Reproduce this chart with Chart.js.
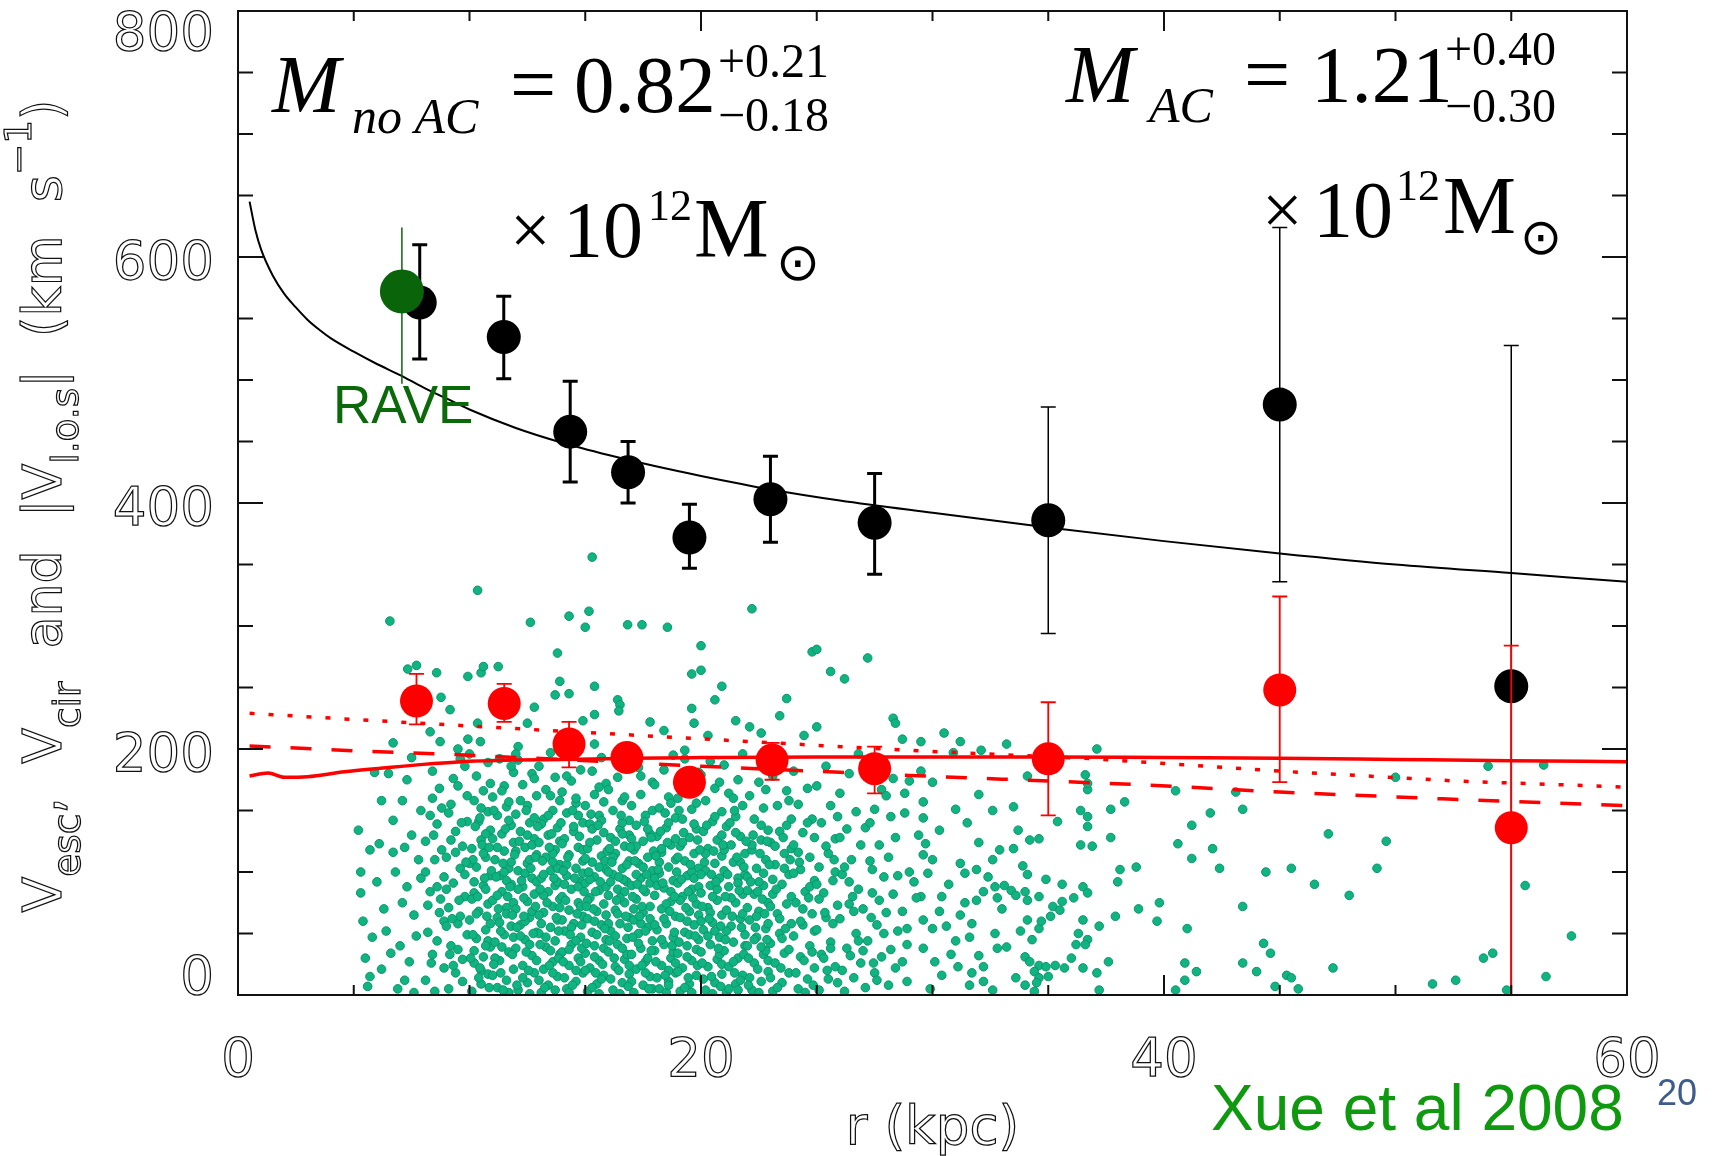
<!DOCTYPE html>
<html>
<head>
<meta charset="utf-8">
<script src="https://cdn.jsdelivr.net/npm/chart.js@4.4.0/dist/chart.umd.min.js"></script>
<style>
html,body{margin:0;padding:0;background:#fff;overflow:hidden}
canvas{display:block}
</style>
</head>
<body>
<canvas id="c" width="1714" height="1156"></canvas>
<script>
// ---------- data ----------
// escape-velocity estimates (black points)
const escR  = [7.85, 11.48, 14.35, 16.85, 19.5, 23.0, 27.5, 35.0, 45.0, 55.0];
const escV  = [563, 535, 458, 425, 372, 403, 384, 386, 480, 251];
const escLo = [517, 501, 417, 400, 347, 368, 342, 294, 336, -26];
const escHi = [610, 568, 499, 450, 399, 438, 424, 478, 624, 528];
// circular-velocity estimates (red points)
const cirR  = [7.71, 11.5, 14.3, 16.8, 19.5, 23.07, 27.5, 35.0, 45.0, 55.0];
const cirV  = [239, 237, 204, 193, 173, 191, 184, 192, 248, 136];
const cirLo = [220, 222, 185, 186, 167, 175, 164, 146, 173, -12];
const cirHi = [261, 253, 222, 200, 179, 205, 202, 238, 324, 284];
// RAVE point (green)
const raveR  = [7.08];
const raveV  = [572];
const raveLo = [497];
const raveHi = [624];
// model curves
const escModelR = [0.5, 0.75, 1, 1.5, 2, 2.5, 3, 3.5, 4, 5, 6, 7, 8, 9, 10, 12, 14, 16, 18, 20, 23, 26, 30, 35, 40, 45, 50, 55, 60];
const escModelV = [645, 622, 606, 585, 570, 559, 549, 541, 534, 523, 513, 504, 494, 485, 476, 461, 449, 439, 430, 422, 411, 402, 392, 380, 369, 359, 350, 343, 336];
const cirModelR = [0.5, 1.3, 2, 3, 4.6, 6.25, 8, 9.5, 12, 14, 17, 20, 25, 30, 35, 40, 45, 50, 55, 60];
const cirModelV = [178, 180.5, 177, 177.5, 181.5, 184.5, 187.5, 189.5, 191, 191.5, 192.5, 193, 193.5, 193.5, 193.5, 193, 192.5, 191.5, 190.5, 189.7];
const dottedR = [0.5, 5, 13.5, 19.3, 25, 30, 37, 45, 52.6, 60];
const dottedV = [229, 224, 215, 209, 203, 198, 192, 182, 174, 169];
const dashedR = [0.5, 5, 10, 20, 26, 29, 33, 39, 45, 52, 60];
const dashedV = [202.5, 198.5, 195, 186, 181, 178.5, 175.5, 171, 165, 159.5, 154];
// halo stars |V_los| vs r (green dots), [r, v]
const haloStars = [
[15.3,356],[10.35,329],[6.56,304],[12.63,303],[14.3,308],[15.16,312],[15.0,299],[16.83,301],[17.45,301],[18.55,299],[22.2,314],[20.0,284],[24.8,279],[25.0,281],[27.2,274],[13.8,278],[19.6,261],[20.0,264],[25.6,263],[26.2,257],[20.9,251],[20.6,240],[23.7,241],[7.33,265],[7.71,268],[8.58,262],[9.93,259],[10.5,262],[10.6,267],[11.24,267],[13.9,255],[13.7,244],[14.3,245],[15.4,251],[16.4,240],[16.5,236],[8.77,242],[9.16,232],[12.8,234],[15.4,228],[14.9,223],[16.45,231],[12.5,221],[10.35,221],[19.6,233],[17.8,222],[19.7,221],[21.5,223],[22.1,218],[23.4,227],[25.0,218],[28.3,225],[28.4,221],[8.3,214],[8.73,206],[9.93,208],[10.47,206],[12.1,202],[6.7,205],[9.5,200],[18.4,215],[20.3,211],[22.6,213],[24.45,211],[15.4,204],[19.3,199],
[5.2,134],[5.3,83],[5.4,60],[5.8,47],[5.7,15],[5.6,7],[5.9,181],[5.7,118],[5.3,100],[5.5,30],
[6.0,92],[6.1,123],[6.2,158],[6.5,180],[6.6,34],[6.7,142],[6.7,116],[6.3,70],[6.9,5],[6.4,52],[6.8,100],[6.2,21],
[7.1,158],[7.0,40],[7.3,88],[7.5,130],[7.2,12],[7.6,65],[7.8,110],[7.4,27],[7.9,150],[7.1,75],[7.7,48],[7.3,175],[7.6,2],[7.9,95],[7.5,193],[7.2,120],
[8.1,12],[8.4,33],[8.2,51],[8.7,67],[8.3,84],[8.9,96],[8.5,110],[8.1,125],[8.6,139],[8.8,152],[8.7,168],[8.4,182],[8.9,22],[8.6,44],[8.2,73],[8.8,118],[8.3,146],[8.5,3],[8.9,60],[8.1,100],[8.6,88],[8.4,160],
[9.1,5],[9.4,18],[9.7,29],[9.2,40],[9.9,49],[9.5,58],[9.1,71],[9.8,80],[9.3,91],[9.6,103],[9.0,112],[9.7,121],[9.4,133],[9.9,141],[9.2,155],[9.5,170],[9.8,186],[9.3,24],[9.6,64],[9.0,86],[9.8,98],[9.4,116],[9.1,148],[9.7,11],[9.5,37],[9.2,126],[9.9,162],[9.6,192],[9.0,56],[9.3,176],
[10.1,3],[10.5,9],[10.8,17],[10.2,26],[10.6,31],[10.9,39],[10.3,46],[10.7,53],[10.0,61],[10.4,68],[10.8,74],[10.2,83],[10.6,89],[10.9,97],[10.3,104],[10.7,112],[10.1,119],[10.5,126],[10.9,134],[10.4,141],[10.8,149],[10.2,158],[10.6,166],[10.3,178],[10.8,189],[10.0,196],[10.5,20],[10.9,58],[10.2,92],[10.7,131],[10.4,14],[10.1,78],[10.6,115],[10.8,44],[10.3,66],[10.0,107],[10.5,152],[10.9,172],[10.2,36],[10.7,86],
[11.2,6],[11.6,12],[11.9,21],[11.3,28],[11.7,35],[11.1,43],[11.5,49],[11.8,56],[11.2,63],[11.6,71],[11.0,77],[11.4,84],[11.8,90],[11.3,97],[11.7,103],[11.1,110],[11.5,117],[11.9,124],[11.4,131],[11.8,138],[11.2,146],[11.6,153],[11.0,161],[11.5,170],[11.9,181],[11.3,192],[11.7,2],[11.0,16],[11.4,39],[11.9,47],[11.2,81],[11.6,93],[11.0,127],[11.7,142],[11.3,59],[11.8,108],[11.4,166],[11.1,30],[11.6,66],[11.9,75],[11.5,100],[11.2,120],[11.7,157],[11.8,186],
[12.1,4],[12.5,10],[12.8,18],[12.3,24],[12.7,32],[12.0,38],[12.4,45],[12.9,51],[12.2,57],[12.6,63],[12.0,70],[12.5,76],[12.8,82],[12.3,88],[12.7,95],[12.1,101],[12.5,107],[12.9,114],[12.4,120],[12.8,127],[12.2,133],[12.6,140],[12.0,147],[12.5,154],[12.9,162],[12.3,171],[12.7,180],[12.1,191],[12.6,1],[12.9,28],[12.2,48],[12.7,68],[12.4,99],[12.0,117],[12.8,144],[12.3,14],[12.6,41],[12.1,86],[12.9,92],[12.4,60],[12.7,122],[12.2,158],[12.5,130],[12.8,176],[12.0,196],[12.6,110],
[13.1,2],[13.4,8],[13.8,15],[13.2,21],[13.6,27],[13.9,33],[13.3,39],[13.7,44],[13.0,50],[13.5,55],[13.8,61],[13.2,67],[13.6,72],[13.9,78],[13.4,84],[13.7,89],[13.1,95],[13.5,101],[13.9,106],[13.3,112],[13.7,118],[13.0,124],[13.4,130],[13.8,136],[13.2,143],[13.6,150],[13.9,158],[13.3,167],[13.7,177],[13.0,186],[13.5,197],[13.0,12],[13.5,36],[13.1,58],[13.8,92],[13.2,81],[13.6,115],[13.9,125],[13.4,146],[13.0,65],[13.7,4],[13.3,47],[13.8,103],[13.1,139],[13.5,162],[13.6,18],[13.9,71],[13.2,98],
[14.2,5],[14.6,11],[14.9,18],[14.3,24],[14.7,30],[14.0,35],[14.4,41],[14.8,47],[14.1,52],[14.5,58],[14.9,64],[14.3,69],[14.7,75],[14.0,80],[14.4,86],[14.8,92],[14.2,97],[14.6,103],[14.9,109],[14.3,114],[14.7,120],[14.1,127],[14.5,133],[14.9,140],[14.2,148],[14.6,156],[14.0,165],[14.4,174],[14.8,183],[14.5,194],[14.1,14],[14.8,27],[14.4,55],[14.0,61],[14.7,88],[14.2,106],[14.9,118],[14.5,137],[14.1,90],[14.6,44],[14.3,2],[14.8,72],[14.0,123],[14.6,160],[14.9,99],[14.3,37],[14.7,146],[14.2,178],
[15.1,3],[15.5,9],[15.8,16],[15.2,22],[15.6,28],[15.0,34],[15.4,40],[15.9,45],[15.3,51],[15.7,57],[15.1,62],[15.5,68],[15.8,74],[15.2,79],[15.6,85],[15.0,91],[15.4,96],[15.9,102],[15.3,108],[15.7,113],[15.1,119],[15.5,126],[15.8,132],[15.2,139],[15.6,146],[15.0,154],[15.4,163],[15.9,172],[15.3,182],[15.7,193],[15.0,20],[15.8,38],[15.4,60],[15.1,77],[15.9,88],[15.6,104],[15.2,124],[15.7,142],[15.3,6],[15.9,65],[15.5,49],[15.0,111],[15.8,157],[15.4,31],[15.2,94],[15.7,13],[15.6,169],[15.3,135],
[16.2,4],[16.6,10],[16.9,17],[16.3,23],[16.7,29],[16.0,35],[16.4,41],[16.8,46],[16.1,52],[16.5,58],[16.9,63],[16.3,69],[16.7,75],[16.0,81],[16.4,86],[16.8,92],[16.2,98],[16.6,103],[16.9,109],[16.3,115],[16.7,121],[16.1,128],[16.5,135],[16.9,142],[16.2,150],[16.6,158],[16.0,167],[16.4,177],[16.8,188],[16.1,13],[16.8,33],[16.4,66],[16.0,100],[16.7,84],[16.2,112],[16.9,130],[16.5,1],[16.3,48],[16.6,140],[16.0,58],[16.9,24],[16.5,79],[16.1,92],[16.7,161],[16.3,125],[16.6,38],[16.4,197],[16.8,106],
[17.1,2],[17.5,8],[17.8,15],[17.2,21],[17.6,27],[17.0,33],[17.4,38],[17.9,44],[17.3,50],[17.7,55],[17.1,61],[17.5,67],[17.8,72],[17.2,78],[17.6,84],[17.0,89],[17.4,95],[17.9,101],[17.3,107],[17.7,112],[17.1,118],[17.5,125],[17.8,131],[17.2,138],[17.6,146],[17.0,154],[17.4,163],[17.9,173],[17.3,185],[17.0,11],[17.7,30],[17.4,58],[17.1,70],[17.8,91],[17.5,104],[17.2,121],[17.9,150],[17.6,18],[17.3,42],[17.0,127],[17.8,62],[17.5,86],[17.2,98],[17.7,135],[17.4,178],[17.9,5],
[18.2,5],[18.6,11],[18.9,18],[18.3,24],[18.7,30],[18.0,36],[18.4,41],[18.8,47],[18.1,53],[18.5,58],[18.9,64],[18.3,70],[18.7,76],[18.0,81],[18.4,87],[18.8,93],[18.2,99],[18.6,104],[18.9,110],[18.3,116],[18.7,122],[18.1,129],[18.5,136],[18.9,144],[18.2,152],[18.6,161],[18.0,171],[18.4,183],[18.8,195],[18.1,14],[18.8,35],[18.4,62],[18.0,95],[18.7,84],[18.2,108],[18.9,127],[18.5,2],[18.3,45],[18.6,140],[18.0,57],[18.9,26],[18.5,74],[18.1,89],[18.7,156],[18.3,119],[18.6,20],
[19.1,3],[19.5,9],[19.8,16],[19.2,22],[19.6,28],[19.0,34],[19.4,40],[19.9,45],[19.3,51],[19.7,57],[19.1,63],[19.5,68],[19.8,74],[19.2,80],[19.6,86],[19.0,91],[19.4,97],[19.9,103],[19.3,109],[19.7,115],[19.1,121],[19.5,128],[19.8,135],[19.2,143],[19.6,151],[19.0,160],[19.4,170],[19.9,181],[19.3,192],[19.0,19],[19.8,37],[19.4,60],[19.1,77],[19.9,88],[19.6,100],[19.2,124],[19.7,139],[19.3,6],[19.9,65],[19.5,49],[19.0,112],[19.8,156],[19.4,31],[19.7,95],
[20.2,4],[20.6,10],[20.9,17],[20.3,23],[20.7,29],[20.0,35],[20.4,41],[20.8,47],[20.1,53],[20.5,59],[20.9,65],[20.3,71],[20.7,77],[20.0,83],[20.4,89],[20.8,95],[20.2,101],[20.6,107],[20.9,113],[20.3,119],[20.7,126],[20.1,133],[20.5,141],[20.9,149],[20.2,158],[20.6,168],[20.0,179],[20.4,190],[20.1,13],[20.8,33],[20.4,67],[20.0,98],[20.7,86],[20.2,115],[20.9,130],[20.5,1],[20.3,48],[20.6,145],[20.0,60],[20.9,25],[20.5,80],[20.8,173],
[21.1,2],[21.5,9],[21.8,16],[21.2,23],[21.6,30],[21.0,36],[21.4,43],[21.9,49],[21.3,56],[21.7,62],[21.1,69],[21.5,75],[21.8,82],[21.2,88],[21.6,95],[21.0,101],[21.4,108],[21.9,115],[21.3,122],[21.7,129],[21.1,137],[21.5,145],[21.8,154],[21.2,164],[21.6,175],[21.0,187],[21.7,12],[21.4,27],[21.9,40],[21.1,52],[21.8,66],[21.3,79],[21.6,91],[21.0,118],[21.5,132],[21.9,98],[21.2,5],[21.7,108],[21.4,160],[21.8,196],
[22.2,4],[22.6,11],[22.9,19],[22.3,26],[22.7,33],[22.0,40],[22.4,47],[22.8,54],[22.1,61],[22.5,68],[22.9,75],[22.3,82],[22.7,89],[22.0,96],[22.4,103],[22.8,110],[22.2,118],[22.6,126],[22.9,134],[22.3,143],[22.7,152],[22.1,162],[22.5,173],[22.9,185],[22.1,14],[22.8,36],[22.4,64],[22.0,85],[22.7,99],[22.2,122],[22.9,58],[22.5,2],[22.3,45],[22.6,138],[22.0,71],[22.9,28],[22.5,92],[22.8,167],
[23.1,3],[23.5,10],[23.8,18],[23.2,26],[23.6,34],[23.0,42],[23.4,50],[23.9,58],[23.3,66],[23.7,74],[23.1,82],[23.5,90],[23.8,98],[23.2,106],[23.6,115],[23.0,124],[23.4,133],[23.9,143],[23.3,154],[23.7,166],[23.1,178],[23.0,14],[23.8,37],[23.4,62],[23.1,94],[23.9,80],[23.6,103],[23.2,121],[23.7,138],[23.3,6],[23.9,119],[23.5,46],[23.0,72],[23.8,158],
[24.2,5],[24.6,13],[24.9,22],[24.3,31],[24.7,40],[24.0,48],[24.4,57],[24.8,66],[24.1,75],[24.5,84],[24.9,93],[24.3,102],[24.7,112],[24.0,122],[24.4,132],[24.8,143],[24.2,155],[24.6,168],[24.0,182],[24.1,18],[24.8,35],[24.4,70],[24.0,99],[24.7,88],[24.2,116],[24.9,128],[24.5,2],[24.3,60],[24.6,140],[24.9,52],
[25.1,4],[25.5,13],[25.8,23],[25.2,33],[25.6,43],[25.0,53],[25.4,63],[25.9,73],[25.3,83],[25.7,93],[25.1,104],[25.5,115],[25.8,127],[25.2,140],[25.6,154],[25.0,170],[25.4,186],[25.9,10],[25.3,30],[25.7,58],[25.1,78],[25.8,100],[25.4,121],[25.6,38],[25.0,90],[25.9,145],
[26.2,3],[26.6,14],[26.9,26],[26.3,38],[26.7,50],[26.0,62],[26.4,74],[26.8,86],[26.1,98],[26.5,110],[26.9,122],[26.3,135],[26.7,149],[26.0,164],[26.4,180],[26.8,196],[26.1,20],[26.8,44],[26.4,92],[26.0,128],[26.6,68],[26.2,104],
[27.1,6],[27.5,18],[27.8,31],[27.2,44],[27.6,57],[27.0,70],[27.4,83],[27.9,96],[27.3,109],[27.7,122],[27.1,136],[27.5,151],[27.8,167],[27.2,185],[27.6,12],[27.9,50],[27.4,102],[27.0,36],[27.7,77],[27.3,140],
[28.1,8],[28.4,22],[28.2,37],[28.5,52],[28.0,67],[28.3,82],[28.5,97],[28.1,112],[28.4,128],[28.2,145],[28.0,162],[28.3,176],
[10.45,22],[10.15,49],[10.75,64],[10.35,80],[10.95,101],[10.55,122],[10.25,137],[10.85,6],[10.65,95],[10.05,30],[10.85,120],[10.45,144],[10.15,110],[10.7,40],
[11.45,4],[11.05,25],[11.85,33],[11.35,52],[11.65,80],[11.15,96],[11.95,114],[11.55,135],[11.25,70],[11.75,88],[11.05,150],[11.45,107],[11.85,65],[11.35,18],
[12.45,35],[12.05,55],[12.85,72],[12.35,79],[12.65,103],[12.15,125],[12.95,137],[12.55,20],[12.25,93],[12.75,50],[12.05,8],[12.45,150],[12.85,112],[12.35,64],
[13.45,24],[13.05,41],[13.85,52],[13.35,75],[13.65,95],[13.15,109],[13.95,140],[13.55,131],[13.25,6],[13.75,63],[13.05,86],[13.45,120],[13.85,30],[13.6,108],
[14.45,8],[14.05,27],[14.85,38],[14.35,49],[14.65,66],[14.15,77],[14.95,84],[14.55,95],[14.25,112],[14.75,129],[14.05,101],[14.45,150],[14.85,57],[14.6,20],
[15.45,18],[15.05,42],[15.85,54],[15.35,70],[15.65,92],[15.15,100],[15.95,117],[15.55,138],[15.25,147],[15.75,25],[15.05,72],[15.45,84],[15.85,109],[15.6,1],
[16.45,20],[16.05,44],[16.85,55],[16.35,77],[16.65,94],[16.15,108],[16.95,120],[16.55,146],[16.25,30],[16.75,64],[16.05,119],[16.45,96],[16.85,7],[16.6,131],
[17.45,24],[17.05,47],[17.85,36],[17.35,64],[17.65,98],[17.15,109],[17.95,117],[17.55,141],[17.25,90],[17.75,5],[17.05,80],[17.45,72],[17.85,128],[17.6,52],
[18.45,16],[18.05,27],[18.85,51],[18.35,91],[18.65,68],[18.15,102],[18.95,100],[18.55,124],[18.25,133],[18.75,40],[18.05,113],[18.45,148],[18.85,80],[18.6,8],
[19.45,14],[19.05,43],[19.85,24],[19.35,71],[19.65,79],[19.15,94],[19.95,118],[19.55,106],[19.25,132],[19.75,48],[19.05,150],[19.45,84],[19.85,126],[19.6,2],
[20.45,15],[20.05,26],[20.85,56],[20.35,62],[20.65,92],[20.15,108],[20.95,122],[20.55,117],[20.25,138],[20.75,38],[20.05,72],[20.45,98],[20.85,7],[20.6,52],
[21.45,18],[21.05,45],[21.85,33],[21.35,64],[21.65,85],[21.15,98],[21.95,125],[21.55,112],[21.25,140],[21.75,55],[21.05,80],[21.45,150],[21.85,104],[21.6,4],
[22.45,21],[22.05,30],[22.85,45],[22.35,55],[22.65,78],[22.15,92],[22.95,106],[22.55,115],[22.25,130],[22.75,66],[22.05,8],[22.45,84],[22.85,125],[22.6,39],
[8.35,26],[8.75,78],[8.45,130],[9.15,33],[9.55,77],[9.85,108],[9.25,62],[9.65,140],
[23.45,22],[23.65,54],[23.25,86],[23.85,110],[24.45,28],[24.65,79],[24.25,108],[25.45,20],[25.35,67],[25.75,110],[26.45,32],[26.55,80],[27.45,26],[27.35,63],[24.85,8],[23.55,128],
[30.5,213],[28.7,208],[29.5,206],[31.2,206],[33.2,204],[32.1,199],[30.9,197],[37.1,200],[54.0,186],[56.4,187],[29.5,182],[34.1,178],[36.6,179],[29.0,174],[30.0,173],[50.0,177],[40.5,166],[43.1,165],[28.8,164],[29.6,157],[32.0,163],[38.3,157],[31.0,151],[32.6,150],[33.5,153],[36.4,150],[36.7,145],[37.7,151],[35.4,141],[43.4,151],[42.0,148],[28.8,148],[29.6,144],[41.2,138],[36.7,137],[30.3,134],[33.7,134],[29.4,130],[47.1,131],[49.6,125],[32.0,124],[34.2,126],[34.6,127],[36.4,122],[36.9,121],[37.7,128],[40.6,123],[42.1,119],[29.7,123],[33.5,119],[32.6,110],[29.6,114],[41.2,111],[31.2,107],[42.4,103],[44.4,100],[45.5,103],[49.2,103],[38.1,102],[38.8,104],[29.0,100],[29.8,99],[31.4,99],[31.9,102],[34.1,98],[34.9,94],[35.6,90],[38.0,92],[46.5,90],[48.0,81],[36.7,167],[36.7,172],
[32.7,88],[33.1,89],[33.4,85],[33.6,81],[34.0,84],[34.1,77],[34.6,80],[32.8,79],[32.2,84],[31.9,77],[31.4,75],[31.2,65],[30.4,80],[30.3,68],[29.5,80],[29.3,79],[28.7,68],[29.6,61],[36.5,88],[36.7,83],[36.1,79],[35.6,76],[35.2,72],[35.5,69],[37.9,64],[38.9,70],[39.8,75],[39.7,60],[43.4,72],[41.0,54],[34.1,61],[34.6,54],[34.7,60],[34.3,45],[35.1,64],[36.5,61],[36.7,45],[36.3,50],[37.2,56],[36.2,41],[36.6,41],[28.9,54],[30.0,54],[30.6,56],[31.7,58],[32.7,50],[31.6,47],[32.8,38],[33.2,39],[29.6,38],[28.9,41],
[44.3,42],[44.6,34],[43.4,26],[44.0,19],[47.3,22],[40.9,26],[41.4,19],[53.8,30],[54.2,34],[57.6,48],[55.6,89],[28.7,27],[30.1,27],[31.1,23],[32.2,23],[31.7,18],[32.2,11],[31.6,8],[34.0,31],[34.2,27],[34.6,24],[34.9,23],[35.3,24],[35.7,22],[34.4,19],[34.6,14],[35.0,15],[34.0,8],[34.5,10],[36.0,30],[36.5,22],[37.1,18],[37.6,27],[28.9,11],[32.6,4],[34.4,3],[37.2,4],[40.5,4],[40.9,12],[45.3,16],[45.5,14],[45.8,5],[44.8,7],[51.6,9],[52.6,12],[56.5,15],[54.8,4],
[30.0,110],[31.5,140],[32.9,118],[33.9,105],[30.7,90],[32.4,96],[33.0,70],[29.2,92],[30.8,33],[33.6,14],[29.9,5],[31.0,44],[32.0,32],[33.8,52],[30.4,16]
];
const xTickLabels = [0, 20, 40, 60];
const yTickLabels = [0, 200, 400, 600, 800];

// ---------- drawing helpers (styles) ----------
const AXIS_FONT = '"DejaVu Sans", sans-serif';

const errorBarPlugin = {
  id: 'errorBarPlugin',
  beforeDatasetDraw(chart, args) {
    const ds = chart.data.datasets[args.index];
    if (!ds.errLo) return;
    const xs = chart.scales.x, ys = chart.scales.y, ctx = chart.ctx, a = chart.chartArea;
    ctx.save();
    ctx.beginPath();
    ctx.rect(a.left, a.top, a.right - a.left, a.bottom - a.top);
    ctx.clip();
    ctx.strokeStyle = ds.errColor;
    ds.data.forEach((p, i) => {
      const x = xs.getPixelForValue(p.x);
      const yl = ys.getPixelForValue(ds.errLo[i]);
      const yh = ys.getPixelForValue(ds.errHi[i]);
      ctx.lineWidth = ds.errWidths ? ds.errWidths[i] : ds.errWidth;
      ctx.beginPath();
      ctx.moveTo(x, yl); ctx.lineTo(x, yh);
      if (ds.errCap) {
        ctx.moveTo(x - ds.errCap, yl); ctx.lineTo(x + ds.errCap, yl);
        ctx.moveTo(x - ds.errCap, yh); ctx.lineTo(x + ds.errCap, yh);
      }
      ctx.stroke();
    });
    ctx.restore();
  }
};

function runsWidth(ctx, runs) {
  let w = 0;
  for (const r of runs) { ctx.font = r.font; w += ctx.measureText(r.t).width; }
  return w;
}
function drawRuns(ctx, runs, x, y, stroke) {
  for (const r of runs) {
    ctx.font = r.font;
    if (stroke) ctx.strokeText(r.t, x, y + (r.dy || 0));
    else ctx.fillText(r.t, x, y + (r.dy || 0));
    x += ctx.measureText(r.t).width;
  }
}

const framePlugin = {
  id: 'framePlugin',
  afterDraw(chart) {
    const ctx = chart.ctx, a = chart.chartArea, xs = chart.scales.x, ys = chart.scales.y;
    ctx.save();
    // frame
    ctx.strokeStyle = '#111';
    ctx.lineWidth = 2;
    ctx.strokeRect(a.left, a.top, a.right - a.left, a.bottom - a.top);
    // ticks
    ctx.beginPath();
    for (let v = 0; v <= 800; v += 50) {
      const y = ys.getPixelForValue(v);
      const len = (v % 200 === 0) ? 25 : 15;
      ctx.moveTo(a.left, y); ctx.lineTo(a.left + len, y);
      ctx.moveTo(a.right, y); ctx.lineTo(a.right - len, y);
    }
    for (let r = 0; r <= 60; r += 5) {
      const x = xs.getPixelForValue(r);
      const len = (r % 20 === 0) ? 20 : 10;
      ctx.moveTo(x, a.bottom); ctx.lineTo(x, a.bottom - len);
      ctx.moveTo(x, a.top); ctx.lineTo(x, a.top + len);
    }
    ctx.stroke();

    // tick labels (thin outlined look)
    ctx.strokeStyle = '#111';
    ctx.lineWidth = 1.25;
    ctx.font = '53px ' + AXIS_FONT;
    ctx.textBaseline = 'alphabetic';
    ctx.textAlign = 'right';
    yTickLabels.forEach(v => {
      let y = ys.getPixelForValue(v) + 22;
      if (v === 800) y += 17;
      if (v === 0) y -= 23;
      ctx.strokeText(String(v), 214, y);
    });
    ctx.textAlign = 'center';
    xTickLabels.forEach(r => {
      ctx.strokeText(String(r), xs.getPixelForValue(r), 1076);
    });
    // x title
    ctx.strokeText('r (kpc)', (a.left + a.right) / 2, 1144);

    // y title, rotated
    ctx.textAlign = 'left';
    const main = '53px ' + AXIS_FONT, sub = '38px ' + AXIS_FONT;
    const runs = [
      {t: 'V', font: main}, {t: 'esc', font: sub, dy: 19},
      {t: ',  V', font: main}, {t: 'cir', font: sub, dy: 19},
      {t: '  and  |V', font: main}, {t: 'l.o.s', font: sub, dy: 17},
      {t: '|  (km  s', font: main}, {t: '\u22121', font: sub, dy: -30},
      {t: ')', font: main}
    ];
    const w = runsWidth(ctx, runs);
    ctx.save();
    ctx.translate(61, 506);
    ctx.rotate(-Math.PI / 2);
    ctx.scale(813 / w, 1);
    drawRuns(ctx, runs, -w / 2, 0, true);
    ctx.restore();

    // mass annotations
    ctx.fillStyle = '#000';
    const it = (s) => 'italic ' + s + 'px "Liberation Serif", "Times New Roman", serif';
    const rm = (s) => s + 'px "Liberation Serif", "Times New Roman", serif';
    const put = (t, f, x, y) => { ctx.font = f; ctx.fillText(t, x, y); };
    const sun = (cx, cy, wTarget) => {
      ctx.font = '100px "DejaVu Sans", sans-serif';
      const m = ctx.measureText('\u2299');
      const s = 100 * wTarget / m.width;
      ctx.font = s + 'px "DejaVu Sans", sans-serif';
      const m2 = ctx.measureText('\u2299');
      const yb = cy + (m2.actualBoundingBoxAscent - m2.actualBoundingBoxDescent) / 2;
      ctx.fillText('\u2299', cx - m2.width / 2, yb);
    };
    // left
    put('M', it(82), 272, 112);
    put('no AC', it(50), 352, 133);
    put('=', rm(82), 510, 112);
    put('0.82', rm(81), 574, 112);
    put('+0.21', rm(48), 718, 77);
    put('\u22120.18', rm(48), 718, 131);
    put('\u00d7', rm(72), 510, 254);
    put('10', rm(80), 563, 257);
    put('12', rm(44), 648, 220);
    put('M', rm(84), 694, 257);
    sun(798, 263, 44);
    // right
    put('M', it(82), 1066, 102);
    put('AC', it(50), 1149, 122);
    put('=', rm(82), 1244, 102);
    put('1.21', rm(81), 1311, 102);
    put('+0.40', rm(48), 1445, 65);
    put('\u22120.30', rm(48), 1445, 122);
    put('\u00d7', rm(72), 1262, 234);
    put('10', rm(80), 1313, 237);
    put('12', rm(44), 1396, 200);
    put('M', rm(82), 1443, 233);
    sun(1541, 238, 42);

    // other labels
    ctx.fillStyle = '#0a6a0a';
    put('RAVE', '53px "Liberation Sans", Arial, sans-serif', 333, 423);
    ctx.fillStyle = '#0e990e';
    put('Xue et al 2008', '64px "Liberation Sans", Arial, sans-serif', 1211, 1130);
    ctx.fillStyle = '#3d5c8c';
    put('20', '36px "Liberation Sans", Arial, sans-serif', 1657, 1105);
    ctx.restore();
  }
};

const pts = (xs, ys) => xs.map((x, i) => ({x: x, y: ys[i]}));

new Chart(document.getElementById('c'), {
  type: 'scatter',
  data: {
    datasets: [
      {
        label: 'halo stars',
        data: haloStars.map(p => ({x: p[0], y: p[1]})),
        pointRadius: 4.3, pointStyle: 'circle',
        backgroundColor: '#10b482', borderColor: '#0a9567', borderWidth: 1,
        order: 10
      },
      {
        label: 'Vesc model',
        data: pts(escModelR, escModelV),
        showLine: true, pointRadius: 0, borderColor: '#000', borderWidth: 2,
        cubicInterpolationMode: 'monotone', order: 5
      },
      {
        label: 'Vcir model',
        data: pts(cirModelR, cirModelV),
        showLine: true, pointRadius: 0, borderColor: '#ff0000', borderWidth: 3.5,
        cubicInterpolationMode: 'monotone', order: 5
      },
      {
        label: 'Vcir dotted',
        data: pts(dottedR, dottedV),
        showLine: true, pointRadius: 0, borderColor: '#ff0000', borderWidth: 3.5,
        borderDash: [5, 14], order: 5
      },
      {
        label: 'Vcir dashed',
        data: pts(dashedR, dashedV),
        showLine: true, pointRadius: 0, borderColor: '#ff0000', borderWidth: 3.5,
        borderDash: [21, 20], order: 5
      },
      {
        label: 'Vesc',
        data: pts(escR, escV),
        pointRadius: 17, backgroundColor: '#000', borderWidth: 0,
        errLo: escLo, errHi: escHi, errColor: '#000',
        errWidths: [3, 3, 3, 3, 3, 3, 3, 1.5, 1.5, 1.5], errCap: 7.5,
        order: 3
      },
      {
        label: 'Vcir',
        data: pts(cirR, cirV),
        pointRadius: 16.5, backgroundColor: '#ff0000', borderWidth: 0,
        errLo: cirLo, errHi: cirHi, errColor: '#ff0000', errWidth: 1.8, errCap: 7.5,
        order: 2
      },
      {
        label: 'RAVE',
        data: pts(raveR, raveV),
        pointRadius: 22, backgroundColor: '#0a640a', borderWidth: 0,
        errLo: raveLo, errHi: raveHi, errColor: '#0a640a', errWidth: 1.5, errCap: 0,
        order: 1
      }
    ]
  },
  options: {
    responsive: false,
    devicePixelRatio: 1,
    animation: false,
    events: [],
    layout: {autoPadding: false, padding: {left: 238, right: 87, top: 11, bottom: 161}},
    scales: {
      x: {type: 'linear', min: 0, max: 60, display: false},
      y: {type: 'linear', min: 0, max: 800, display: false}
    },
    plugins: {legend: {display: false}, tooltip: {enabled: false}}
  },
  plugins: [errorBarPlugin, framePlugin]
});
</script>
</body>
</html>
